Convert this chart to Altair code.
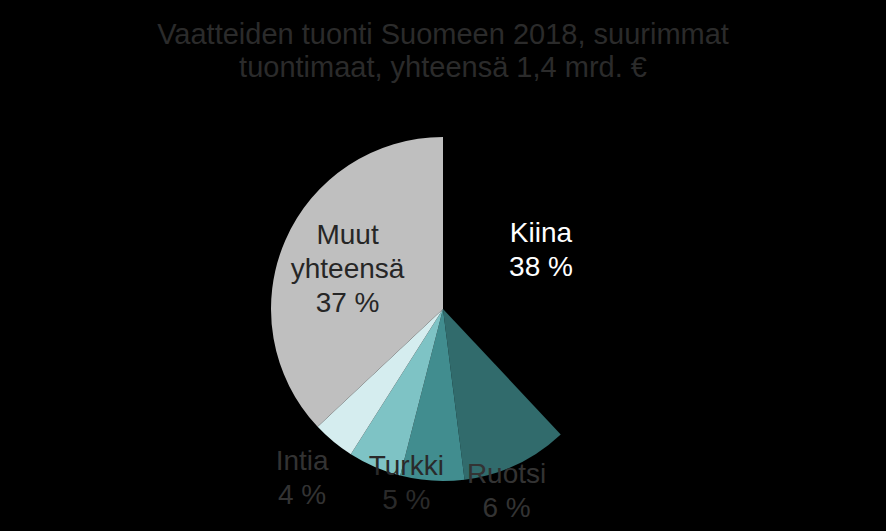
import altair as alt
import pandas as pd

categories = ["Kiina", "Bangladesh", "Ruotsi", "Turkki", "Intia", "Muut yhteensä"]
shares = [38, 10, 6, 5, 4, 37]
labels = ["Kiina\n38 %", "", "Ruotsi\n6 %", "Turkki\n5 %", "Intia\n4 %", "Muut\nyhteensä\n37 %"]
colors = ["#000000", "#316B6C", "#418D8F", "#7EC3C5", "#D5EDEF", "#BFBFBF"]

df = pd.DataFrame({
    "maa": categories,
    "osuus": shares,
    "teksti": labels,
    "idx": list(range(len(categories))),
})

FONT = "Liberation Sans"

base = alt.Chart(df).encode(
    theta=alt.Theta("osuus:Q", stack=True),
    order=alt.Order("idx:Q"),
)

arcs = base.mark_arc(radius=172, stroke=None).encode(
    color=alt.Color("maa:N", scale=alt.Scale(domain=categories, range=colors), legend=None)
)

# label styling: (category, radius, dx, dy, color)
label_style = [
    ("Kiina", 114, -8, -33, "#FFFFFF"),
    ("Muut yhteensä", 104, 0, -32, "#262626"),
    ("Ruotsi", 182, 75, -16, "#333333"),
    ("Turkki", 178, 34, -5, "#2A2A2A"),
    ("Intia", 221, 0, -17, "#333333"),
]

layers = [arcs]
for cat, r, dx, dy, col in label_style:
    t = base.transform_calculate(
        lab=f"datum.maa === '{cat}' ? datum.teksti : ''"
    ).mark_text(
        radius=r, dx=dx, dy=dy, color=col, font=FONT, fontSize=28,
        lineHeight=34, lineBreak="\n", align="center", baseline="middle",
    ).encode(text="lab:N")
    layers.append(t)

chart = alt.layer(*layers).properties(
    width=886,
    height=444,
    padding={"left": 0, "right": 0, "top": 87, "bottom": 0},
    autosize=alt.AutoSizeParams(type="none"),
    title=alt.Title(
        ["Vaatteiden tuonti Suomeen 2018, suurimmat", "tuontimaat, yhteensä 1,4 mrd. €"],
        font=FONT, fontSize=29, fontWeight="normal", color="#2B2B2B",
        lineHeight=33, anchor="middle", offset=4,
    ),
).configure(background="#000000").configure_view(stroke=None)

chart.save("out.html", embed_options={"renderer": "svg", "actions": False})
